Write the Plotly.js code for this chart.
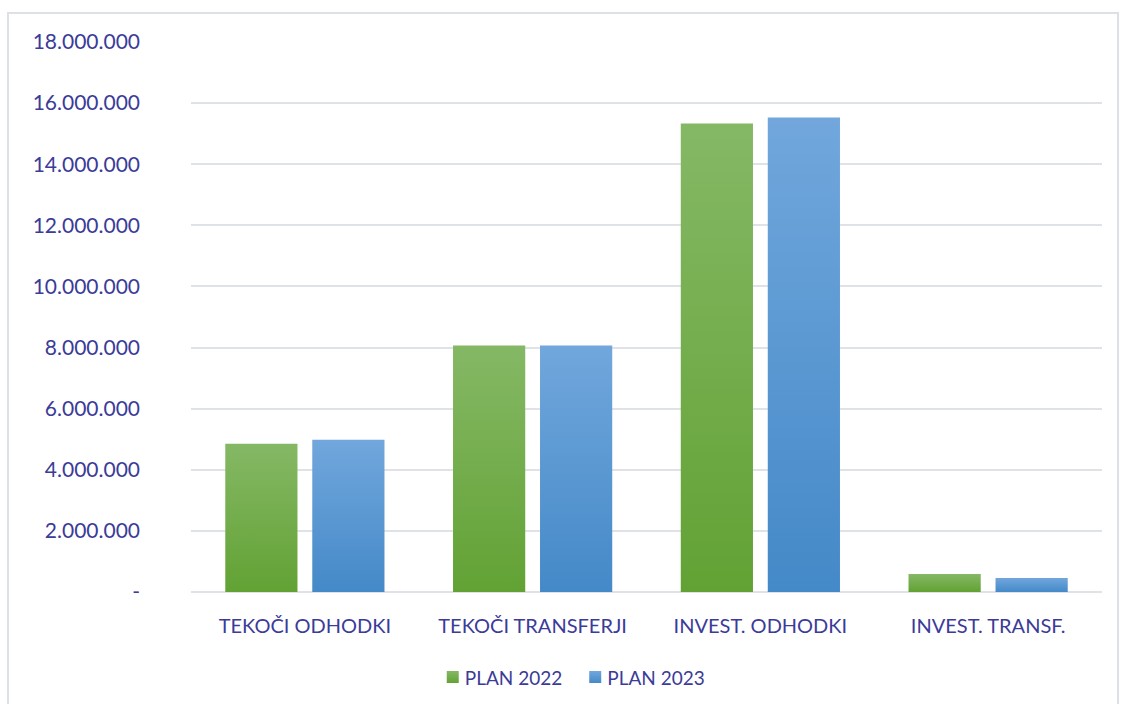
<!DOCTYPE html>
<html>
<head>
<meta charset="utf-8">
<script src="https://cdn.plot.ly/plotly-3.0.1.min.js"></script>
<style>
html,body{margin:0;padding:0;background:#fff;}
#chart{width:1125px;height:704px;}
</style>
</head>
<body>
<div id="chart"></div>
<script>
const categories = ["TEKOČI ODHODKI", "TEKOČI TRANSFERJI", "INVEST. ODHODKI", "INVEST. TRANSF."];
const plan2022 = [4850000, 8070000, 15330000, 590000];
const plan2023 = [4980000, 8070000, 15530000, 460000];
const tickVals = [0, 2000000, 4000000, 6000000, 8000000, 10000000, 12000000, 14000000, 16000000, 18000000];
const tickText = ["-", "2.000.000", "4.000.000", "6.000.000", "8.000.000", "10.000.000", "12.000.000", "14.000.000", "16.000.000", "18.000.000"];

const textColor = "#3b3b98";
const fontFam = "Lato, 'Liberation Sans', sans-serif";

const data = [
  {type: "bar", name: "PLAN 2022", x: categories, y: plan2022, marker: {color: "#72ae4a"}},
  {type: "bar", name: "PLAN 2023", x: categories, y: plan2023, marker: {color: "#5a9bd6"}}
];

const layout = {
  width: 1125, height: 704,
  margin: {l: 191, r: 23, t: 42, b: 112, autoexpand: false},
  paper_bgcolor: "#fff", plot_bgcolor: "#fff",
  barmode: "group", bargap: 0.236, bargroupgap: 0.17,
  font: {family: fontFam, color: textColor, size: 20},
  xaxis: {
    type: "category", showgrid: false, zeroline: false, showline: false,
    ticks: "", tickfont: {size: 20, color: textColor}, ticklabelstandoff: 20
  },
  yaxis: {
    range: [0, 18000000], tickvals: tickVals, ticktext: tickText,
    showgrid: true, gridcolor: "#dfe3e8", gridwidth: 2,
    zeroline: true, zerolinecolor: "#dfe3e8", zerolinewidth: 2,
    showline: false, ticks: "", ticklabelstandoff: 50,
    tickfont: {size: 21, color: textColor}
  },
  showlegend: true,
  legend: {
    orientation: "h", x: 0.413, xanchor: "center", y: -0.155, yanchor: "middle",
    font: {size: 19, color: textColor}, itemwidth: 30, tracegroupgap: 0
  },
  shapes: [{
    type: "rect", xref: "paper", yref: "paper",
    x0: -0.2009, x1: 1.0176, y0: -0.23, y1: 1.0527,
    line: {color: "#dde1e6", width: 2}, fillcolor: "rgba(0,0,0,0)", layer: "below"
  }]
};

Plotly.newPlot("chart", data, layout, {displayModeBar: false, staticPlot: true}).then(function(gd){
  const svg = gd.querySelector("svg.main-svg");
  const ns = "http://www.w3.org/2000/svg";
  let defs = svg.querySelector("defs");
  if (!defs) { defs = document.createElementNS(ns, "defs"); svg.insertBefore(defs, svg.firstChild); }
  function addGrad(id, top, bottom){
    const g = document.createElementNS(ns, "linearGradient");
    g.setAttribute("id", id);
    g.setAttribute("x1", "0"); g.setAttribute("y1", "0");
    g.setAttribute("x2", "0"); g.setAttribute("y2", "1");
    const s1 = document.createElementNS(ns, "stop");
    s1.setAttribute("offset", "0"); s1.setAttribute("stop-color", top);
    const s2 = document.createElementNS(ns, "stop");
    s2.setAttribute("offset", "1"); s2.setAttribute("stop-color", bottom);
    g.appendChild(s1); g.appendChild(s2); defs.appendChild(g);
  }
  addGrad("gGreen", "#85b865", "#62a234");
  addGrad("gBlue", "#71a7dc", "#4489c8");
  const traces = gd.querySelectorAll(".barlayer .trace");
  const ids = ["gGreen", "gBlue"];
  traces.forEach(function(t, i){
    t.querySelectorAll("path").forEach(function(p){ p.style.fill = "url(#" + ids[i] + ")"; });
  });
  const legItems = gd.querySelectorAll(".legend .traces");
  legItems.forEach(function(t, i){
    const lp = t.querySelector(".legendpoints");
    if (lp) lp.setAttribute("transform", "translate(8,0)");
    t.querySelectorAll(".legendpoints path").forEach(function(p){ p.style.fill = "url(#" + ids[i] + ")"; });
  });
});
</script>
</body>
</html>
